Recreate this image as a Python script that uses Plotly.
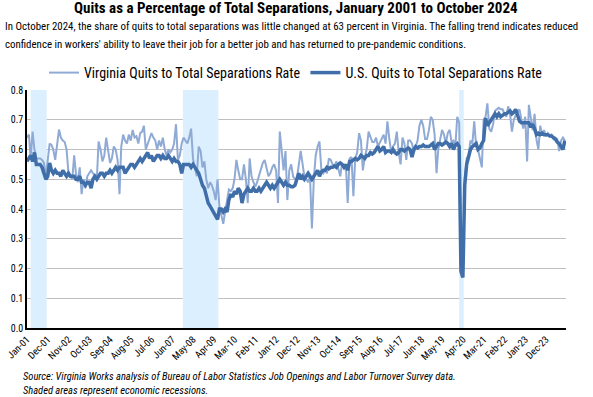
import pandas as pd
import plotly.graph_objects as go

# ---------------- data ----------------
va_2001 = [0.64, 0.65, 0.57, 0.66, 0.60, 0.57, 0.57, 0.57, 0.565, 0.555, 0.51, 0.56]
va_2002 = [0.62, 0.615, 0.60, 0.565, 0.61, 0.667, 0.64, 0.63, 0.625, 0.60, 0.52, 0.51]
va_2003 = [0.50, 0.58, 0.52, 0.49, 0.54, 0.45, 0.50, 0.47, 0.51, 0.52, 0.53, 0.52]
va_2004 = [0.51, 0.50, 0.627, 0.60, 0.56, 0.58, 0.64, 0.60, 0.555, 0.57, 0.61, 0.60]
va_2005 = [0.565, 0.45, 0.61, 0.65, 0.63, 0.62, 0.65, 0.63, 0.666, 0.64, 0.645, 0.62]
va_2006 = [0.655, 0.66, 0.68, 0.60, 0.62, 0.64, 0.655, 0.64, 0.63, 0.60, 0.63, 0.61]
va_2007 = [0.64, 0.60, 0.58, 0.60, 0.59, 0.60, 0.62, 0.685, 0.565, 0.58, 0.62, 0.64]
va_2008 = [0.63, 0.62, 0.64, 0.67, 0.57, 0.54, 0.51, 0.61, 0.595, 0.54, 0.56, 0.50]
va_2009 = [0.47, 0.49, 0.48, 0.46, 0.43, 0.50, 0.41, 0.38, 0.35, 0.39, 0.43, 0.465]
va_2010 = [0.46, 0.47, 0.50, 0.565, 0.53, 0.50, 0.50, 0.55, 0.50, 0.42, 0.57, 0.51]
va_2011 = [0.49, 0.475, 0.49, 0.51, 0.53, 0.555, 0.565, 0.54, 0.51, 0.52, 0.54, 0.55]
va_2012 = [0.53, 0.42, 0.66, 0.595, 0.53, 0.595, 0.43, 0.53, 0.55, 0.51, 0.50, 0.50]
va_2013 = [0.55, 0.595, 0.555, 0.51, 0.50, 0.49, 0.51, 0.335, 0.50, 0.58, 0.61, 0.627]
va_2014 = [0.53, 0.52, 0.53, 0.52, 0.57, 0.565, 0.55, 0.545, 0.56, 0.53, 0.51, 0.555]
va_2015 = [0.54, 0.545, 0.42, 0.57, 0.575, 0.443, 0.57, 0.59, 0.655, 0.63, 0.53, 0.575]
va_2016 = [0.60, 0.66, 0.64, 0.625, 0.625, 0.64, 0.61, 0.625, 0.64, 0.65, 0.62, 0.695]
va_2017 = [0.635, 0.59, 0.61, 0.62, 0.66, 0.59, 0.55, 0.64, 0.62, 0.565, 0.63, 0.63]
va_2018 = [0.62, 0.59, 0.61, 0.63, 0.68, 0.70, 0.68, 0.635, 0.635, 0.665, 0.71, 0.70]
va_2019 = [0.65, 0.52, 0.60, 0.63, 0.666, 0.65, 0.62, 0.655, 0.666, 0.625, 0.63, 0.61]
va_2020 = [0.71, 0.69, 0.25, 0.20, 0.50, 0.57, 0.58, 0.63, 0.62, 0.695, 0.61, 0.60]
va_2021 = [0.57, 0.54, 0.70, 0.71, 0.755, 0.67, 0.66, 0.685, 0.73, 0.735, 0.74, 0.735]
va_2022 = [0.735, 0.72, 0.71, 0.745, 0.72, 0.66, 0.70, 0.715, 0.725, 0.735, 0.70, 0.67]
va_2023 = [0.71, 0.56, 0.75, 0.71, 0.665, 0.72, 0.635, 0.60, 0.68, 0.65, 0.665, 0.645]
va_2024 = [0.655, 0.645, 0.65, 0.635, 0.64, 0.635, 0.595, 0.63, 0.64, 0.63]

us_2001 = [0.56, 0.57, 0.58, 0.56, 0.59, 0.55, 0.55, 0.55, 0.54, 0.52, 0.50, 0.51]
us_2002 = [0.555, 0.53, 0.52, 0.53, 0.52, 0.52, 0.51, 0.53, 0.52, 0.51, 0.52, 0.51]
us_2003 = [0.51, 0.51, 0.50, 0.50, 0.51, 0.49, 0.49, 0.48, 0.49, 0.49, 0.47, 0.50]
us_2004 = [0.51, 0.50, 0.51, 0.52, 0.52, 0.51, 0.52, 0.52, 0.53, 0.52, 0.53, 0.54]
us_2005 = [0.53, 0.54, 0.54, 0.54, 0.52, 0.53, 0.54, 0.55, 0.55, 0.54, 0.55, 0.56]
us_2006 = [0.57, 0.56, 0.57, 0.58, 0.59, 0.57, 0.58, 0.56, 0.57, 0.58, 0.58, 0.57]
us_2007 = [0.58, 0.57, 0.57, 0.58, 0.57, 0.56, 0.57, 0.56, 0.56, 0.55, 0.52, 0.55]
us_2008 = [0.55, 0.55, 0.55, 0.54, 0.55, 0.54, 0.53, 0.52, 0.50, 0.48, 0.47, 0.44]
us_2009 = [0.42, 0.41, 0.40, 0.39, 0.38, 0.365, 0.40, 0.40, 0.39, 0.40, 0.39, 0.43]
us_2010 = [0.45, 0.44, 0.46, 0.45, 0.47, 0.46, 0.42, 0.45, 0.46, 0.47, 0.46, 0.46]
us_2011 = [0.47, 0.46, 0.46, 0.47, 0.46, 0.47, 0.48, 0.49, 0.48, 0.47, 0.48, 0.47]
us_2012 = [0.48, 0.49, 0.50, 0.49, 0.48, 0.49, 0.48, 0.48, 0.475, 0.475, 0.48, 0.50]
us_2013 = [0.52, 0.50, 0.51, 0.50, 0.51, 0.52, 0.51, 0.50, 0.51, 0.52, 0.53, 0.51]
us_2014 = [0.525, 0.53, 0.53, 0.54, 0.535, 0.54, 0.54, 0.545, 0.54, 0.55, 0.555, 0.55]
us_2015 = [0.54, 0.55, 0.53, 0.56, 0.56, 0.565, 0.57, 0.565, 0.57, 0.58, 0.575, 0.57]
us_2016 = [0.58, 0.58, 0.59, 0.585, 0.59, 0.60, 0.61, 0.595, 0.60, 0.61, 0.59, 0.595]
us_2017 = [0.595, 0.59, 0.60, 0.59, 0.585, 0.59, 0.60, 0.60, 0.595, 0.60, 0.605, 0.60]
us_2018 = [0.575, 0.60, 0.61, 0.605, 0.61, 0.61, 0.615, 0.61, 0.61, 0.61, 0.615, 0.62]
us_2019 = [0.60, 0.61, 0.62, 0.62, 0.615, 0.62, 0.625, 0.62, 0.61, 0.62, 0.60, 0.615]
us_2020 = [0.62, 0.61, 0.19, 0.17, 0.48, 0.55, 0.58, 0.60, 0.61, 0.615, 0.62, 0.60]
us_2021 = [0.605, 0.62, 0.63, 0.705, 0.68, 0.69, 0.70, 0.71, 0.72, 0.71, 0.72, 0.71]
us_2022 = [0.715, 0.72, 0.72, 0.725, 0.73, 0.72, 0.725, 0.735, 0.71, 0.695, 0.69, 0.69]
us_2023 = [0.69, 0.69, 0.69, 0.675, 0.685, 0.67, 0.65, 0.655, 0.65, 0.655, 0.65, 0.65]
us_2024 = [0.65, 0.645, 0.645, 0.64, 0.635, 0.625, 0.62, 0.61, 0.60, 0.63]

tick_labels = ["Jan-01", "Dec-01", "Nov-02", "Oct-03", "Sep-04", "Aug-05", "Jul-06",
               "Jun-07", "May-08", "Apr-09", "Mar-10", "Feb-11", "Jan-12", "Dec-12",
               "Nov-13", "Oct-14", "Sep-15", "Aug-16", "Jul-17", "Jun-18", "May-19",
               "Apr-20", "Mar-21", "Feb-22", "Jan-23", "Dec-23"]
y_ticks = [0.0, 0.1, 0.2, 0.3, 0.4, 0.5, 0.6, 0.7, 0.8]

recession_starts = ["2001-03-01", "2007-11-20", "2020-02-01"]
recession_ends = ["2001-11-15", "2009-06-15", "2020-04-15"]

series_names = ["Virginia Quits to Total Separations Rate", "U.S. Quits to Total Separations Rate"]

# ---------------- build ----------------
va = (va_2001 + va_2002 + va_2003 + va_2004 + va_2005 + va_2006 + va_2007 + va_2008 +
      va_2009 + va_2010 + va_2011 + va_2012 + va_2013 + va_2014 + va_2015 + va_2016 +
      va_2017 + va_2018 + va_2019 + va_2020 + va_2021 + va_2022 + va_2023 + va_2024)
us = (us_2001 + us_2002 + us_2003 + us_2004 + us_2005 + us_2006 + us_2007 + us_2008 +
      us_2009 + us_2010 + us_2011 + us_2012 + us_2013 + us_2014 + us_2015 + us_2016 +
      us_2017 + us_2018 + us_2019 + us_2020 + us_2021 + us_2022 + us_2023 + us_2024)
dates = pd.date_range("2001-01-01", periods=len(va), freq="MS")
tick_vals = [pd.to_datetime(t, format="%b-%y") for t in tick_labels]

NARROW = "Liberation Sans Narrow, Arial Narrow, Roboto Condensed, sans-serif"

W, H = 593, 397
L, R, T, B = 27, 566, 90, 328


def px(x):
    return (x - L) / (R - L)


def py(y):
    return (B - y) / (B - T)


fig = go.Figure()
fig.add_trace(go.Scatter(x=dates, y=va, mode="lines", name=series_names[0],
                         line=dict(color="#8faad4", width=2)))
fig.add_trace(go.Scatter(x=dates, y=us, mode="lines", name=series_names[1],
                         line=dict(color="#3f6ea9", width=3.5)))

for s, e in zip(recession_starts, recession_ends):
    fig.add_shape(type="rect", xref="x", yref="y", x0=s, x1=e, y0=0, y1=0.8,
                  fillcolor="#dcefff", line=dict(width=0), layer="between")

annotations = [
    dict(text="<b>Quits as a Percentage of Total Separations, January 2001 to October 2024</b>",
         x=px(296), y=py(8), xanchor="center", yanchor="middle",
         font=dict(size=15, color="#000000", family=NARROW)),
    dict(text="In October 2024, the share of quits to total separations was little changed at 63 percent in Virginia. The falling trend indicates reduced",
         x=px(3), y=py(26), xanchor="left", yanchor="middle",
         font=dict(size=10.9, color="#000000", family=NARROW)),
    dict(text="confidence in workers' ability to leave their job for a better job and has returned to pre-pandemic conditions.",
         x=px(3), y=py(44), xanchor="left", yanchor="middle",
         font=dict(size=10.9, color="#000000", family=NARROW)),
    dict(text="<i>Source: Virginia Works analysis of Bureau of Labor Statistics Job Openings and Labor Turnover Survey data.</i>",
         x=px(21), y=py(376.5), xanchor="left", yanchor="middle",
         font=dict(size=10.5, color="#000000", family=NARROW)),
    dict(text="<i>Shaded areas represent economic recessions.</i>",
         x=px(21), y=py(390.5), xanchor="left", yanchor="middle",
         font=dict(size=10.5, color="#000000", family=NARROW)),
]
for a in annotations:
    a.update(xref="paper", yref="paper", showarrow=False)

fig.update_layout(
    width=W, height=H,
    margin=dict(l=L, r=W - R, t=T, b=H - B, autoexpand=False),
    paper_bgcolor="white", plot_bgcolor="white",
    font=dict(family=NARROW, color="#000000"),
    showlegend=True,
    legend=dict(orientation="h", x=px(296), xanchor="center", y=py(73), yanchor="middle",
                font=dict(size=14, family=NARROW), bgcolor="rgba(0,0,0,0)",
                itemwidth=30, tracegroupgap=0),
    annotations=annotations,
    xaxis=dict(type="date", range=[dates[0], pd.Timestamp("2024-10-20")],
               tickvals=tick_vals, ticktext=tick_labels, tickangle=-45,
               showgrid=False, showline=True, linecolor="#000000", linewidth=1.5,
               ticks="", tickfont=dict(size=10, family=NARROW), zeroline=False,
               automargin=False),
    yaxis=dict(range=[0, 0.8], tickvals=y_ticks, tickformat=".1f",
               showgrid=True, gridcolor="#bfbfbf", gridwidth=1,
               showline=True, linecolor="#000000", linewidth=1.5,
               ticks="", tickfont=dict(size=10, family=NARROW), zeroline=False,
               automargin=False),
)

fig.write_html("out.html", config={"displayModeBar": False},
               post_script="document.body.style.margin='0';document.body.style.overflow='hidden';")
